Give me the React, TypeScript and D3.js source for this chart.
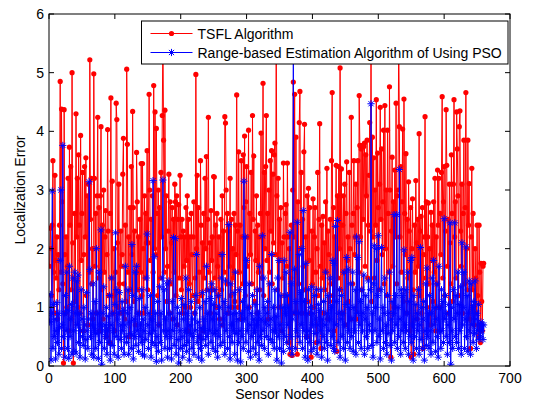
import React from "react";
import * as d3 from "d3";

const tsfl: number[] = [
1.7,2.35,2.0,1.2,2.4,3.5,1.6,0.9,3.25,1.8,1.5,2.2,0.8,1.9,1.3,2.4,4.85,1.6,4.38,2.8,
1.4,0.05,4.37,1.9,0.9,2.2,1.0,1.7,3.2,0.6,3.73,2.4,3.4,1.3,5.0,2.1,0.05,1.5,2.6,1.1,
4.3,2.2,3.2,1.0,3.6,2.4,0.9,3.93,1.8,2.6,3.3,0.6,1.9,3.4,2.2,3.55,1.2,2.9,0.7,3.1,
1.6,5.22,2.5,3.2,1.4,2.0,0.8,4.98,3.2,1.7,2.6,0.9,2.9,4.24,1.5,2.7,0.6,2.9,4.08,1.3,
2.4,0.8,3.0,1.6,2.2,2.65,0.5,1.9,4.03,2.3,1.2,0.4,2.6,4.57,1.5,3.15,0.9,1.2,2.0,0.6,
1.6,4.48,4.2,2.1,1.0,3.1,1.4,0.9,2.3,1.7,1.9,3.27,3.88,1.4,0.8,2.4,1.1,5.06,3.78,1.6,
2.2,0.5,2.7,1.3,3.4,1.9,4.34,2.7,1.1,2.3,0.7,1.6,3.64,2.8,1.3,2.2,0.9,2.5,1.6,3.45,
1.2,3.45,2.0,0.9,2.9,1.5,2.6,2.1,3.67,1.3,2.1,4.63,3.0,1.8,2.5,0.8,2.9,1.6,4.78,2.0,
4.33,1.9,4.05,2.6,1.2,3.0,0.7,2.7,1.5,3.3,2.2,4.27,5.7,3.85,1.6,4.36,2.0,2.9,1.1,1.7,
2.3,3.27,0.9,2.8,1.4,2.1,2.7,0.8,2.5,1.6,3.1,2.8,1.2,2.9,0.7,2.5,2.75,1.5,3.25,2.2,
1.3,2.5,0.9,2.3,1.7,2.2,1.0,2.7,1.8,2.9,0.6,2.5,1.4,2.2,1.0,2.6,1.9,1.2,2.2,2.8,
0.9,1.5,4.97,2.0,3.25,1.1,2.7,1.6,0.5,3.5,2.4,1.2,2.1,0.6,2.6,1.5,3.2,2.0,3.57,1.3,
2.5,4.24,1.6,2.1,0.9,2.65,1.8,2.2,1.3,3.23,3.22,1.5,2.4,1.0,2.6,1.7,1.2,2.2,0.8,1.9,
2.5,1.3,2.9,0.7,2.3,1.6,4.25,4.14,3.0,1.4,2.6,0.9,2.3,1.7,3.2,1.2,2.5,1.0,2.0,1.5,
2.6,1.1,2.4,1.9,4.62,2.3,1.0,3.65,1.6,2.4,0.8,3.5,2.2,1.4,3.6,2.7,3.92,1.2,2.8,3.4,
1.7,2.2,4.02,1.0,2.6,1.9,3.3,1.4,4.27,2.5,3.58,1.1,2.3,1.8,2.9,0.9,2.4,1.6,2.2,1.3,
2.6,3.97,1.5,2.2,4.82,1.2,3.3,2.0,3.4,4.27,1.8,2.6,0.8,3.0,1.6,3.5,2.3,3.67,1.4,3.27,
2.1,3.6,3.8,1.9,5.7,2.9,1.3,3.2,1.0,2.5,1.8,2.7,0.6,2.1,1.5,3.46,2.2,1.2,2.6,2.75,
1.7,3.46,2.2,0.4,2.0,0.2,1.5,2.4,0.18,3.0,4.84,2.2,4.63,0.9,3.9,1.6,0.2,2.8,1.4,4.15,
4.68,2.0,3.3,0.9,2.5,1.7,3.65,4.12,1.3,2.2,0.5,2.9,1.1,3.03,1.8,2.7,0.9,0.15,2.3,1.4,
2.85,1.0,2.2,2.7,1.6,0.4,2.0,3.3,1.2,2.5,4.13,1.7,0.3,2.4,1.5,2.55,0.9,2.1,1.3,2.8,
1.6,3.37,0.8,2.3,1.9,1.1,2.5,1.4,3.5,4.66,1.2,2.7,0.6,2.2,1.8,3.42,0.25,2.9,1.5,3.4,
2.0,5.08,1.3,3.36,0.9,2.4,2.9,1.6,3.1,0.7,2.6,3.48,1.8,2.2,1.1,3.3,2.0,0.8,4.24,2.4,
1.4,2.6,3.5,1.9,2.2,3.1,0.8,2.7,3.5,1.6,4.61,3.76,2.2,3.7,1.3,3.76,2.5,3.74,3.8,1.7,
3.6,2.9,3.85,1.5,2.4,3.25,4.15,2.3,5.7,1.1,3.9,2.2,3.55,1.5,3.0,2.4,4.54,1.8,3.63,2.7,
1.3,3.1,4.41,2.5,3.7,1.9,2.8,4.02,1.4,4.44,2.0,3.0,1.2,4.02,2.6,1.6,4.76,3.0,0.15,2.3,
3.56,1.7,2.8,1.0,3.34,2.2,4.48,1.4,2.9,3.0,5.7,4.08,2.2,3.4,1.6,2.8,4.04,1.1,4.55,2.6,
1.9,3.62,0.9,2.5,1.5,3.14,2.3,0.6,2.7,0.15,2.0,2.85,1.3,0.2,2.4,1.6,3.16,2.1,0.8,2.5,
1.7,3.96,1.2,2.3,2.55,0.9,2.7,0.3,1.9,2.2,4.25,1.5,2.8,1.0,2.2,2.78,1.4,2.0,0.7,2.62,
1.8,2.4,1.1,2.8,1.6,3.2,0.6,2.2,1.4,3.34,2.4,3.2,1.0,2.6,1.9,3.3,4.59,1.5,2.8,3.4,
1.2,2.3,4.37,3.42,1.7,2.5,0.9,3.1,2.1,1.4,3.6,2.6,1.1,3.1,4.54,2.2,2.8,1.5,4.33,3.7,
2.9,1.2,4.08,4.35,2.3,1.7,3.1,0.9,2.6,3.85,1.4,2.7,4.66,2.0,1.3,3.85,2.4,3.11,0.8,0.3,
2.2,3.37,1.3,2.6,1.0,0.7,2.0,1.5,0.9,2.4,1.2,0.5,2.4,1.6,0.4,1.75,1.1,0.6,1.7,1.75
];

const pso: number[] = [
0.75,1.22,0.1,0.9,2.98,0.3,1.05,0.5,0.8,0.12,0.6,1.08,0.4,0.9,0.2,0.65,1.8,3.0,0.3,0.7,
3.76,0.5,0.9,0.15,1.2,0.6,1.6,0.3,0.95,0.13,1.7,0.5,0.8,1.05,0.2,1.5,0.6,0.25,1.6,0.9,
0.22,1.45,0.7,1.55,0.4,0.9,0.15,0.6,1.3,0.8,0.5,0.35,1.0,0.7,0.12,0.45,1.25,0.6,0.3,0.8,
3.14,1.65,0.5,0.9,0.2,0.7,1.4,0.15,0.6,1.1,0.3,2.0,0.55,0.9,0.13,1.6,0.4,0.7,2.32,0.03,
0.6,0.9,1.35,0.3,0.7,0.5,1.0,0.2,0.6,0.85,0.4,1.2,0.1,0.7,1.5,0.35,0.9,0.6,0.2,1.05,
2.27,0.5,1.3,0.8,0.15,0.9,1.25,0.45,0.7,0.3,1.1,0.6,0.95,0.2,0.7,1.7,0.5,0.4,0.9,1.3,
0.2,0.75,1.0,0.55,0.3,2.07,1.2,0.12,0.8,0.5,1.6,0.35,1.7,0.6,0.9,0.25,1.15,0.5,0.7,0.4,
1.3,0.2,0.8,0.6,0.17,1.0,0.45,1.5,2.25,0.7,0.3,0.9,0.55,1.2,0.15,0.8,0.4,3.16,0.6,1.86,
0.35,0.9,0.08,0.5,1.1,0.25,0.7,1.35,0.4,0.9,0.1,1.5,3.17,0.6,1.3,0.3,0.8,0.5,1.4,0.15,
0.6,1.45,0.3,0.9,0.5,0.12,1.1,0.6,2.19,0.35,0.8,2.17,0.2,0.7,1.0,0.45,0.05,0.9,0.6,0.3,
1.15,0.5,0.15,0.8,1.05,0.35,0.6,1.5,0.25,0.9,0.4,1.3,0.1,0.7,0.55,1.1,0.3,0.8,0.5,0.2,
0.9,0.6,1.2,1.9,0.4,0.75,0.15,0.5,1.0,0.3,0.65,0.1,1.25,0.45,0.8,0.6,1.1,0.35,1.7,0.5,
0.9,0.2,1.3,0.6,1.15,0.4,1.4,0.8,0.3,1.05,0.55,1.3,0.25,0.9,0.6,0.15,1.2,0.5,1.0,0.35,
0.7,1.5,1.9,0.4,0.8,1.1,0.2,1.45,0.6,0.9,0.3,1.0,2.41,0.5,0.12,1.4,0.7,0.4,0.9,0.6,
1.25,0.2,1.6,0.55,0.9,0.1,0.8,0.4,1.3,0.6,0.07,0.9,0.5,1.1,0.3,3.15,0.8,2.2,0.4,1.8,
0.6,1.0,0.25,1.4,0.7,0.15,0.9,0.5,1.2,0.3,0.8,0.6,1.05,0.2,0.7,1.3,0.4,0.9,0.1,1.7,
0.5,0.8,0.35,2.22,0.6,1.5,0.3,1.0,0.75,0.5,0.9,1.1,0.2,0.7,1.4,0.45,0.8,1.9,0.4,0.6,
1.0,0.3,1.3,0.6,0.85,0.1,1.5,0.5,1.8,0.3,0.7,1.2,0.05,0.6,1.0,0.25,1.8,0.5,0.9,1.6,
0.4,1.2,0.7,1.0,0.3,2.28,0.5,1.4,0.2,0.8,5.6,0.9,1.65,0.3,1.1,0.6,2.45,0.5,0.9,1.9,
0.4,1.25,0.7,2.0,0.3,2.65,0.6,1.1,0.15,1.75,0.5,0.9,0.1,1.3,0.6,0.4,1.0,0.25,1.35,0.7,
0.9,0.3,1.2,0.55,0.8,1.3,0.2,0.7,1.05,0.4,0.95,0.6,1.3,0.15,0.8,0.5,1.1,0.3,0.7,1.6,
0.4,0.9,0.1,1.2,0.6,0.8,1.5,0.35,1.0,0.5,1.8,0.3,1.75,0.25,2.38,0.7,1.1,2.48,0.4,0.9,
1.3,0.15,0.8,1.2,0.5,0.9,0.3,1.6,0.7,0.1,1.05,1.85,0.4,1.65,0.6,1.0,0.3,1.4,0.5,0.8,
1.6,0.25,1.0,0.6,1.3,0.2,2.2,0.9,1.85,0.4,2.12,0.7,1.1,0.3,1.3,0.6,0.9,1.55,0.2,0.8,
1.2,0.5,1.0,0.3,1.45,0.7,0.6,1.3,4.47,0.35,0.9,0.15,1.4,2.05,0.6,1.0,2.0,0.4,1.2,2.22,
0.5,0.8,0.12,1.3,2.02,0.6,1.0,0.3,0.9,1.5,0.4,0.7,0.2,1.2,0.55,0.9,1.6,0.35,0.8,0.1,
1.1,0.6,0.9,2.58,0.4,1.2,0.7,2.58,0.3,1.0,0.5,3.35,0.8,0.2,1.3,0.6,1.2,0.4,1.98,0.7,
0.3,1.3,0.6,0.9,1.6,0.2,1.1,0.5,1.8,0.4,1.85,0.7,0.1,1.2,0.5,0.8,1.05,0.3,0.9,0.6,
1.3,0.2,0.7,2.02,0.45,1.0,0.3,0.8,1.1,0.1,0.6,1.4,0.35,1.67,0.5,0.9,0.3,1.2,0.6,0.2,
0.9,1.5,0.4,1.8,0.7,1.0,0.25,0.8,1.4,0.5,0.15,1.7,0.6,1.0,0.3,1.3,0.6,1.1,0.4,2.51,
0.8,1.2,0.5,0.9,0.2,0.7,1.05,0.4,2.44,0.03,1.0,0.6,0.3,1.3,0.8,2.44,0.5,1.2,0.4,0.9,
1.6,0.3,1.05,0.6,1.35,0.2,2.1,0.7,1.0,1.6,0.3,0.8,2.03,0.5,1.2,0.25,0.9,1.45,0.6,0.2,
1.4,0.7,1.0,0.4,1.1,0.55,1.45,0.8,0.3,0.9,0.6,1.05,0.45,0.7,0.5,0.75,0.6,0.7,0.45,0.7
];

const xTicks = [0, 100, 200, 300, 400, 500, 600, 700];
const yTicks = [0, 1, 2, 3, 4, 5, 6];
const seriesNames = ["TSFL Algorithm", "Range-based Estimation Algorithm of Using PSO"];
const xLabel = "Sensor Nodes";
const yLabel = "Localization Error";

const W = 539, H = 402;
const L = 49, R = 510, T = 14, B = 366;
const FONT = "'Liberation Sans', Arial, Helvetica, sans-serif";
const FS = 14;
const RED = "#ff0000";
const BLUE = "#0000ff";

function star(cx: number, cy: number, s: number) {
  const a = s * 0.72;
  return `M${cx - s},${cy}H${cx + s}M${cx},${cy - s}V${cy + s}M${cx - a},${cy - a}L${cx + a},${cy + a}M${cx - a},${cy + a}L${cx + a},${cy - a}`;
}

export default function App() {
  const x = d3.scaleLinear().domain([0, 700]).range([L, R]);
  const y = d3.scaleLinear().domain([0, 6]).range([B, T]);
  const redPts = tsfl.map((v, i) => [x(i + 1), y(v)] as [number, number]);
  const bluePts = pso.map((v, i) => [x(i + 1), y(v)] as [number, number]);
  const line = d3.line<[number, number]>().x(d => d[0]).y(d => d[1]);
  const starPath = bluePts.map(p => star(p[0], p[1], 3.6)).join("");
  const tl = 5;
  const legY1 = 33.5, legY2 = 52.5;
  return (
    <svg width={W} height={H} style={{ position: "absolute", left: 0, top: 0, background: "#fff" }} fontFamily={FONT}>
      <rect x={0} y={0} width={W} height={H} fill="#fff" />
      <defs>
        <clipPath id="plotclip">
          <rect x={L} y={T} width={R - L} height={B - T} />
        </clipPath>
      </defs>
      <g clipPath="url(#plotclip)">
        <path d={line(redPts) || ""} fill="none" stroke={RED} strokeWidth={1} />
        {redPts.map((p, i) => (
          <circle key={"r" + i} cx={p[0]} cy={p[1]} r={2.6} fill={RED} />
        ))}
        <path d={line(bluePts) || ""} fill="none" stroke={BLUE} strokeWidth={1} />
        <path d={starPath} fill="none" stroke={BLUE} strokeWidth={1} />
      </g>
      <rect x={L} y={T} width={R - L} height={B - T} fill="none" stroke="#000" strokeWidth={1} />
      {xTicks.map(t => (
        <g key={"xt" + t}>
          <line x1={x(t)} x2={x(t)} y1={B} y2={B - tl} stroke="#000" />
          <line x1={x(t)} x2={x(t)} y1={T} y2={T + tl} stroke="#000" />
          <text x={x(t)} y={383} fontSize={FS} textAnchor="middle" fill="#000">{t}</text>
        </g>
      ))}
      {yTicks.map(t => (
        <g key={"yt" + t}>
          <line x1={L} x2={L + tl} y1={y(t)} y2={y(t)} stroke="#000" />
          <line x1={R} x2={R - tl} y1={y(t)} y2={y(t)} stroke="#000" />
          <text x={44} y={y(t) + 5} fontSize={FS} textAnchor="end" fill="#000">{t}</text>
        </g>
      ))}
      <text x={(L + R) / 2} y={399} fontSize={FS} textAnchor="middle" fill="#000">{xLabel}</text>
      <text transform={`translate(25,${(T + B) / 2}) rotate(-90)`} fontSize={FS} textAnchor="middle" fill="#000">{yLabel}</text>
      <rect x={141.5} y={21} width={366.5} height={43} fill="#fff" stroke="#000" strokeWidth={1} />
      <line x1={150.5} x2={192.5} y1={legY1} y2={legY1} stroke={RED} />
      <circle cx={171.5} cy={legY1} r={2.6} fill={RED} />
      <text x={197.5} y={legY1 + 5} fontSize={FS} fill="#000">{seriesNames[0]}</text>
      <line x1={150.5} x2={192.5} y1={legY2} y2={legY2} stroke={BLUE} />
      <path d={star(171.5, legY2, 3.6)} stroke={BLUE} fill="none" />
      <text x={197.5} y={legY2 + 5} fontSize={FS} fill="#000">{seriesNames[1]}</text>
    </svg>
  );
}
